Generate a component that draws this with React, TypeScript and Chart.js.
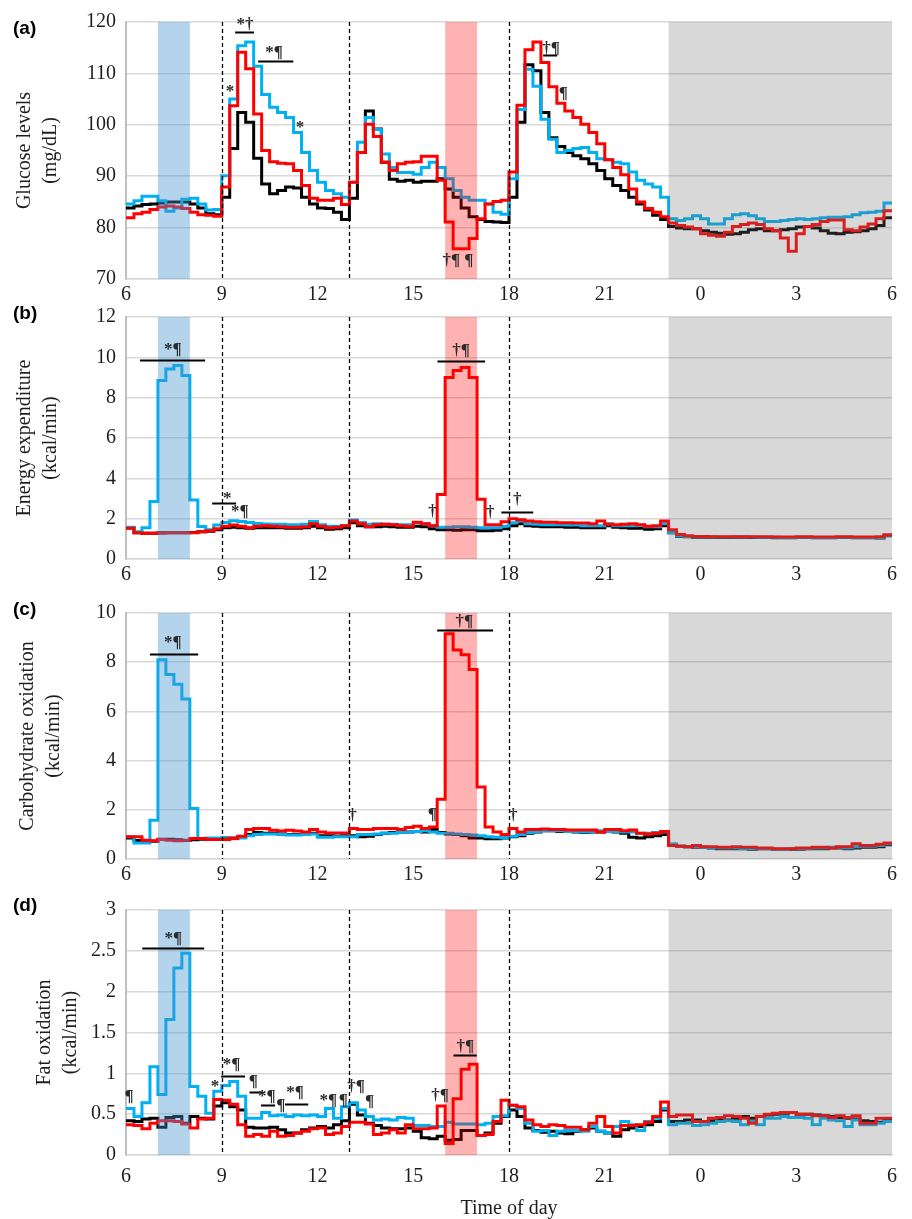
import React, { useEffect, useRef } from "react";
import { Chart, registerables } from "chart.js";

Chart.register(...registerables);

// ---------- time axis ----------
const START_HOUR = 6;
const STEP_HOURS = 0.25; // 15-minute bins
const X_TICK_HOURS = [6, 9, 12, 15, 18, 21, 24, 27, 30];
const X_TICK_LABELS = ["6", "9", "12", "15", "18", "21", "0", "3", "6"];
const MEAL_TIMES = [9, 13, 18];
const MORNING_EX = [7, 8];
const AFTERNOON_EX = [16, 17];
const SLEEP = [23, 30];

// ---------- (a) Glucose levels (mg/dL) ----------
const GLU_CONTROL = [
  83.8, 84.2, 84.5, 84.6, 84.8, 85.0, 85.0, 85.0, 84.6, 83.8, 82.7, 82.5,
  85.9, 95.4, 102.4, 100.5, 93.5, 88.5, 86.6, 87.2, 87.9, 87.7, 85.9, 84.6, 83.8, 83.7, 83.0, 81.6,
  85.7, 94.6, 102.7, 99.2, 92.7, 89.4, 89.0, 89.2, 88.8, 89.0, 89.0, 89.5, 87.5, 85.9, 83.8, 82.1, 81.6, 81.2, 81.1, 81.0,
  85.9, 100.5, 111.7, 110.5, 102.4, 97.5, 95.8, 94.6, 94.0, 93.4, 92.4, 91.1, 89.5, 88.2, 87.2, 85.9, 84.6, 83.4, 82.4, 81.6,
  80.2, 79.9, 79.8, 79.8, 79.4, 79.1, 78.9, 78.7, 78.8, 79.1, 79.6, 79.8, 79.4, 79.4, 79.6, 79.8, 80.1, 80.2, 79.9, 79.4, 78.9, 78.8, 79.1, 79.2, 79.4, 79.8, 80.4, 81.9,
];
const GLU_MORNING = [
  84.6, 85.2, 86.1, 86.1, 85.2, 83.2, 83.8, 85.5, 85.7, 84.6, 83.4, 83.5,
  90.1, 105.0, 115.4, 116.1, 111.4, 105.9, 103.4, 102.4, 101.4, 98.5, 94.6, 91.1, 88.8, 87.2, 86.6, 85.9,
  88.8, 96.6, 101.4, 99.1, 94.3, 91.7, 90.7, 90.7, 90.4, 91.7, 92.7, 91.7, 89.5, 87.2, 85.9, 85.3, 85.3, 84.6, 83.0, 82.6,
  89.5, 103.0, 110.8, 107.5, 101.1, 97.2, 94.6, 95.0, 95.4, 95.6, 94.6, 93.4, 93.2, 92.7, 92.4, 90.8, 89.2, 88.5, 87.9, 85.9,
  81.7, 81.4, 81.7, 82.3, 81.7, 80.7, 80.7, 81.7, 82.5, 82.7, 82.3, 81.7, 81.2, 81.2, 81.4, 81.6, 81.7, 81.6, 81.7, 81.9, 82.0, 82.0, 82.1, 82.5, 82.9, 83.0, 83.2, 84.8,
];
const GLU_AFTERNOON = [
  81.9, 82.7, 83.0, 83.5, 84.0, 84.2, 84.0, 83.7, 83.0, 82.5, 82.4, 82.2,
  87.9, 103.7, 114.1, 110.9, 102.1, 95.0, 92.8, 92.5, 92.4, 91.1, 88.2, 85.7, 85.3, 85.3, 85.7, 84.5,
  88.8, 94.6, 100.1, 97.7, 92.7, 91.1, 92.4, 92.7, 92.8, 93.9, 93.9, 89.2, 81.1, 75.9, 75.9, 77.9, 81.7, 84.6, 85.1, 85.3,
  90.8, 103.8, 114.6, 116.1, 112.1, 107.4, 104.2, 102.7, 101.4, 100.1, 98.5, 96.3, 93.2, 91.7, 90.3, 87.5, 85.0, 83.7, 83.0, 82.1,
  80.9, 80.4, 80.1, 79.8, 78.8, 78.5, 78.3, 79.1, 80.2, 80.6, 80.9, 80.6, 79.8, 79.4, 78.0, 75.4, 78.8, 80.2, 80.6, 81.2, 81.5, 81.5, 79.6, 79.4, 80.1, 80.7, 81.7, 83.3,
];

// ---------- (b) Energy expenditure (kcal/min) ----------
const EE_CONTROL = [
  1.55, 1.30, 1.28, 1.28, 1.30, 1.30, 1.30, 1.30, 1.32, 1.35, 1.38, 1.45,
  1.55, 1.58, 1.55, 1.52, 1.55, 1.55, 1.55, 1.55, 1.52, 1.52, 1.55, 1.62, 1.55, 1.48, 1.50, 1.55,
  1.80, 1.65, 1.60, 1.60, 1.62, 1.60, 1.58, 1.58, 1.62, 1.60, 1.50, 1.45, 1.45, 1.42, 1.45, 1.45, 1.40, 1.40, 1.42, 1.50,
  1.65, 1.75, 1.65, 1.62, 1.60, 1.60, 1.60, 1.58, 1.58, 1.55, 1.55, 1.55, 1.65, 1.58, 1.55, 1.52, 1.52, 1.48, 1.50, 1.65,
  1.30, 1.12, 1.10, 1.08, 1.08, 1.08, 1.07, 1.07, 1.08, 1.08, 1.07, 1.06, 1.06, 1.05, 1.05, 1.05, 1.06, 1.06, 1.05, 1.05, 1.05, 1.06, 1.06, 1.05, 1.05, 1.05, 1.04, 1.15,
];
const EE_MORNING = [
  1.58, 1.35, 1.55, 2.85, 8.85, 9.42, 9.59, 9.10, 2.93, 1.61, 1.45, 1.69,
  1.81, 1.90, 1.86, 1.81, 1.76, 1.74, 1.72, 1.72, 1.70, 1.70, 1.72, 1.86, 1.70, 1.62, 1.62, 1.66,
  1.94, 1.81, 1.72, 1.75, 1.72, 1.72, 1.70, 1.70, 1.80, 1.75, 1.65, 1.58, 1.58, 1.60, 1.60, 1.58, 1.55, 1.55, 1.55, 1.62,
  1.80, 1.90, 1.75, 1.72, 1.70, 1.70, 1.70, 1.68, 1.68, 1.65, 1.65, 1.65, 1.75, 1.65, 1.65, 1.65, 1.68, 1.60, 1.60, 1.75,
  1.30, 1.14, 1.12, 1.10, 1.10, 1.10, 1.09, 1.09, 1.10, 1.10, 1.09, 1.08, 1.08, 1.08, 1.07, 1.07, 1.08, 1.08, 1.07, 1.07, 1.07, 1.08, 1.08, 1.07, 1.07, 1.07, 1.06, 1.18,
];
const EE_AFTERNOON = [
  1.52, 1.30, 1.28, 1.28, 1.28, 1.30, 1.30, 1.30, 1.30, 1.35, 1.40, 1.50,
  1.62, 1.68, 1.62, 1.55, 1.62, 1.65, 1.62, 1.60, 1.58, 1.58, 1.60, 1.75, 1.62, 1.55, 1.58, 1.65,
  1.88, 1.75, 1.60, 1.70, 1.72, 1.70, 1.65, 1.62, 1.82, 1.75, 1.65, 3.20, 9.00, 9.35, 9.50, 9.00, 2.96, 1.70, 1.70, 1.85,
  2.00, 1.95, 1.88, 1.85, 1.82, 1.82, 1.80, 1.80, 1.78, 1.78, 1.75, 1.88, 1.72, 1.70, 1.72, 1.75, 1.70, 1.62, 1.65, 1.88,
  1.45, 1.22, 1.15, 1.12, 1.12, 1.10, 1.10, 1.10, 1.10, 1.10, 1.10, 1.10, 1.10, 1.09, 1.09, 1.09, 1.10, 1.10, 1.09, 1.09, 1.09, 1.10, 1.10, 1.09, 1.09, 1.09, 1.10, 1.20,
];

// ---------- (c) Carbohydrate oxidation (kcal/min) ----------
const CHO_CONTROL = [
  0.85, 0.75, 0.72, 0.72, 0.80, 0.80, 0.78, 0.75, 0.78, 0.80, 0.82, 0.82,
  0.85, 0.85, 0.88, 1.00, 1.08, 1.05, 1.05, 1.02, 1.00, 1.00, 1.02, 1.05, 0.95, 0.95, 0.92, 0.95,
  0.95, 0.90, 0.92, 1.00, 1.05, 1.08, 1.08, 1.10, 1.12, 1.10, 1.20, 1.08, 1.02, 1.00, 0.95, 0.85, 0.85, 0.82, 0.82, 0.85,
  0.90, 0.95, 1.05, 1.10, 1.15, 1.15, 1.12, 1.12, 1.10, 1.08, 1.10, 1.10, 1.12, 1.10, 1.05, 0.88, 0.85, 0.90, 0.95, 1.00,
  0.60, 0.52, 0.50, 0.48, 0.48, 0.45, 0.42, 0.42, 0.42, 0.42, 0.40, 0.42, 0.42, 0.40, 0.40, 0.40, 0.40, 0.42, 0.42, 0.42, 0.45, 0.45, 0.42, 0.45, 0.48, 0.48, 0.50, 0.58,
];
const CHO_MORNING = [
  0.90, 0.65, 0.65, 1.58, 8.10, 7.50, 7.10, 6.50, 2.05, 0.83, 0.85, 0.85,
  0.82, 0.82, 0.85, 0.95, 1.00, 1.02, 1.02, 1.00, 0.98, 0.98, 1.00, 1.02, 0.88, 0.88, 0.90, 0.90,
  0.90, 1.00, 1.00, 1.02, 1.05, 1.05, 1.08, 1.10, 1.12, 1.15, 1.10, 1.05, 1.05, 1.02, 1.00, 0.98, 0.95, 0.90, 0.88, 0.85,
  0.92, 1.00, 1.08, 1.12, 1.15, 1.15, 1.15, 1.12, 1.12, 1.10, 1.12, 1.15, 1.12, 1.12, 1.10, 1.10, 1.05, 1.05, 1.08, 1.10,
  0.60, 0.52, 0.50, 0.50, 0.48, 0.45, 0.45, 0.45, 0.45, 0.42, 0.42, 0.42, 0.42, 0.40, 0.40, 0.42, 0.42, 0.42, 0.45, 0.45, 0.48, 0.48, 0.45, 0.50, 0.52, 0.52, 0.55, 0.62,
];
const CHO_AFTERNOON = [
  0.90, 0.90, 0.76, 0.74, 0.79, 0.76, 0.74, 0.76, 0.83, 0.83, 0.79, 0.79,
  0.79, 0.83, 0.92, 1.20, 1.24, 1.24, 1.17, 1.14, 1.17, 1.14, 1.10, 1.20, 1.10, 1.06, 1.06, 1.06,
  1.24, 1.20, 1.20, 1.24, 1.24, 1.24, 1.20, 1.28, 1.33, 1.24, 1.30, 2.43, 9.16, 8.50, 8.30, 7.70, 2.93, 1.30, 1.10, 1.00,
  1.24, 1.10, 1.20, 1.20, 1.22, 1.20, 1.20, 1.18, 1.18, 1.18, 1.18, 1.10, 1.20, 1.20, 1.15, 1.18, 1.05, 1.02, 1.05, 1.12,
  0.55, 0.52, 0.50, 0.55, 0.50, 0.50, 0.48, 0.48, 0.50, 0.48, 0.48, 0.45, 0.45, 0.42, 0.42, 0.42, 0.45, 0.45, 0.48, 0.48, 0.45, 0.50, 0.50, 0.62, 0.55, 0.55, 0.60, 0.65,
];

// ---------- (d) Fat oxidation (kcal/min) ----------
const FAT_CONTROL = [
  0.42, 0.41, 0.44, 0.45, 0.34, 0.46, 0.47, 0.39, 0.47, 0.45, 0.44, 0.60,
  0.64, 0.59, 0.55, 0.34, 0.33, 0.33, 0.34, 0.31, 0.27, 0.27, 0.31, 0.33, 0.35, 0.33, 0.37, 0.42,
  0.62, 0.49, 0.39, 0.36, 0.33, 0.32, 0.32, 0.33, 0.29, 0.21, 0.20, 0.23, 0.18, 0.19, 0.30, 0.30, 0.24, 0.27, 0.39, 0.47,
  0.55, 0.47, 0.33, 0.30, 0.28, 0.29, 0.27, 0.26, 0.29, 0.31, 0.33, 0.29, 0.27, 0.23, 0.31, 0.33, 0.35, 0.37, 0.41, 0.55,
  0.41, 0.41, 0.43, 0.43, 0.41, 0.42, 0.43, 0.43, 0.45, 0.47, 0.45, 0.47, 0.49, 0.50, 0.51, 0.52, 0.50, 0.50, 0.49, 0.48, 0.47, 0.46, 0.45, 0.44, 0.42, 0.41, 0.40, 0.43,
];
const FAT_MORNING = [
  0.57, 0.47, 0.64, 1.08, 0.74, 1.66, 2.29, 2.47, 0.84, 0.72, 0.51, 0.78,
  0.85, 0.90, 0.72, 0.45, 0.45, 0.52, 0.48, 0.49, 0.47, 0.49, 0.48, 0.49, 0.47, 0.57, 0.45, 0.59,
  0.64, 0.55, 0.47, 0.43, 0.44, 0.43, 0.46, 0.45, 0.36, 0.36, 0.35, 0.35, 0.40, 0.38, 0.38, 0.38, 0.37, 0.39, 0.47, 0.48,
  0.61, 0.57, 0.39, 0.29, 0.30, 0.24, 0.29, 0.30, 0.30, 0.29, 0.35, 0.29, 0.27, 0.35, 0.41, 0.37, 0.30, 0.41, 0.45, 0.57,
  0.37, 0.39, 0.39, 0.36, 0.37, 0.39, 0.41, 0.42, 0.41, 0.37, 0.41, 0.37, 0.45, 0.45, 0.47, 0.46, 0.46, 0.45, 0.37, 0.45, 0.43, 0.42, 0.35, 0.43, 0.37, 0.37, 0.39, 0.41,
];
const FAT_AFTERNOON = [
  0.37, 0.36, 0.32, 0.39, 0.42, 0.42, 0.41, 0.38, 0.33, 0.44, 0.45, 0.68,
  0.67, 0.62, 0.37, 0.23, 0.25, 0.23, 0.29, 0.23, 0.24, 0.27, 0.29, 0.32, 0.33, 0.25, 0.27, 0.35,
  0.40, 0.40, 0.38, 0.25, 0.27, 0.31, 0.27, 0.37, 0.32, 0.32, 0.33, 0.60, 0.14, 0.69, 1.05, 1.11, 0.24, 0.25, 0.41, 0.67,
  0.61, 0.59, 0.43, 0.37, 0.35, 0.37, 0.36, 0.34, 0.34, 0.31, 0.39, 0.47, 0.35, 0.27, 0.36, 0.36, 0.37, 0.40, 0.47, 0.65,
  0.47, 0.49, 0.49, 0.41, 0.41, 0.45, 0.46, 0.48, 0.47, 0.45, 0.39, 0.47, 0.50, 0.51, 0.52, 0.52, 0.50, 0.50, 0.48, 0.48, 0.46, 0.48, 0.46, 0.48, 0.39, 0.39, 0.45, 0.45,
];

// ---------- significance annotations (text at data coords; bars x1..x2 at y) ----------
type Txt = { t: string; x: number; y: number };
type Bar = { x1: number; x2: number; y: number };
const ANN_A_TEXT: Txt[] = [
  { t: "*†", x: 9.73, y: 119.4 }, { t: "*¶", x: 10.64, y: 114.1 }, { t: "*", x: 9.26, y: 106.4 },
  { t: "*", x: 11.45, y: 99.4 }, { t: "†¶ ¶", x: 16.4, y: 73.6 }, { t: "†¶", x: 19.32, y: 114.9 },
  { t: "¶", x: 19.7, y: 106 },
];
const ANN_A_BARS: Bar[] = [{ x1: 9.42, x2: 10.01, y: 118.0 }, { x1: 10.14, x2: 11.24, y: 112.4 }, { x1: 19.07, x2: 19.51, y: 113.5 }];
const ANN_B_TEXT: Txt[] = [
  { t: "*¶", x: 7.47, y: 10.4 }, { t: "*", x: 9.17, y: 3.0 }, { t: "*¶", x: 9.57, y: 2.35 },
  { t: "†", x: 15.6, y: 2.35 }, { t: "†¶", x: 16.5, y: 10.35 }, { t: "†", x: 17.41, y: 2.3 }, { t: "†", x: 18.26, y: 2.95 },
];
const ANN_B_BARS: Bar[] = [{ x1: 6.44, x2: 8.48, y: 9.88 }, { x1: 8.7, x2: 9.45, y: 2.77 }, { x1: 15.76, x2: 17.25, y: 9.83 }, { x1: 17.76, x2: 18.76, y: 2.32 }];
const ANN_C_TEXT: Txt[] = [
  { t: "*¶", x: 7.47, y: 8.8 }, { t: "†", x: 13.1, y: 1.75 }, { t: "¶", x: 15.6, y: 1.8 },
  { t: "†¶", x: 16.6, y: 9.65 }, { t: "†", x: 18.13, y: 1.75 },
];
const ANN_C_BARS: Bar[] = [{ x1: 6.75, x2: 8.26, y: 8.33 }, { x1: 15.75, x2: 17.5, y: 9.31 }];
const ANN_D_TEXT: Txt[] = [
  { t: "¶", x: 6.1, y: 0.71 }, { t: "*¶", x: 7.48, y: 2.65 }, { t: "*", x: 8.79, y: 0.84 },
  { t: "*¶", x: 9.31, y: 1.11 }, { t: "¶", x: 9.99, y: 0.9 }, { t: "*¶", x: 10.41, y: 0.72 },
  { t: "¶", x: 10.85, y: 0.61 }, { t: "*¶", x: 11.3, y: 0.77 }, { t: "*¶", x: 12.34, y: 0.67 },
  { t: "¶", x: 12.81, y: 0.67 }, { t: "†¶", x: 13.21, y: 0.84 }, { t: "¶", x: 13.63, y: 0.65 },
  { t: "†¶", x: 15.84, y: 0.73 }, { t: "†¶", x: 16.63, y: 1.33 },
];
const ANN_D_BARS: Bar[] = [
  { x1: 6.51, x2: 8.45, y: 2.54 }, { x1: 8.98, x2: 9.73, y: 0.97 }, { x1: 9.87, x2: 10.3, y: 0.77 },
  { x1: 10.23, x2: 10.67, y: 0.61 }, { x1: 10.98, x2: 11.71, y: 0.63 }, { x1: 16.26, x2: 16.99, y: 1.23 },
];

// ---------- styling ----------
const SERIF = '"Liberation Serif", "Times New Roman", serif';
const COL_CONTROL = "#000000";
const COL_MORNING = "#00B0F0";
const COL_AFTERNOON = "#FF0000";

type PanelCfg = {
  letter: string;
  top: number;
  h: number;
  plotTop: number;
  plotBottom: number;
  yMin: number;
  yMax: number;
  yStep: number;
  title: string[];
  titlePad: number;
  xPad: number;
  letterY: number;
  control: number[];
  morning: number[];
  afternoon: number[];
  texts: Txt[];
  bars: Bar[];
  xTitle?: string;
};

const PANELS: PanelCfg[] = [
  { letter: "(a)", top: 0, h: 310, plotTop: 21, plotBottom: 279, yMin: 70, yMax: 120, yStep: 10,
    title: ["Glucose levels", "(mg/dL)"], titlePad: 12, xPad: 4, letterY: 29,
    control: GLU_CONTROL, morning: GLU_MORNING, afternoon: GLU_AFTERNOON, texts: ANN_A_TEXT, bars: ANN_A_BARS },
  { letter: "(b)", top: 295, h: 290, plotTop: 21, plotBottom: 264, yMin: 0, yMax: 12, yStep: 2,
    title: ["Energy expenditure", "(kcal/min)"], titlePad: 12, xPad: 4, letterY: 19,
    control: EE_CONTROL, morning: EE_MORNING, afternoon: EE_AFTERNOON, texts: ANN_B_TEXT, bars: ANN_B_BARS },
  { letter: "(c)", top: 585, h: 300, plotTop: 28, plotBottom: 274, yMin: 0, yMax: 10, yStep: 2,
    title: ["Carbohydrate oxidation", "(kcal/min)"], titlePad: 15, xPad: 4, letterY: 25,
    control: CHO_CONTROL, morning: CHO_MORNING, afternoon: CHO_AFTERNOON, texts: ANN_C_TEXT, bars: ANN_C_BARS },
  { letter: "(d)", top: 885, h: 334, plotTop: 25, plotBottom: 270, yMin: 0, yMax: 3, yStep: 0.5,
    title: ["Fat oxidation", "(kcal/min)"], titlePad: 32, xPad: 10, letterY: 21,
    control: FAT_CONTROL, morning: FAT_MORNING, afternoon: FAT_AFTERNOON, texts: ANN_D_TEXT, bars: ANN_D_BARS,
    xTitle: "Time of day" },
];

function toSteps(vals: number[]) {
  const pts = vals.map((v, i) => ({ x: START_HOUR + i * STEP_HOURS, y: v }));
  pts.push({ x: START_HOUR + vals.length * STEP_HOURS, y: vals[vals.length - 1] });
  return pts;
}

function makeOverlay(cfg: PanelCfg) {
  return {
    id: "overlay" + cfg.letter,
    afterDatasetsDraw(chart: any) {
      const { ctx, chartArea: a, scales } = chart;
      const x = scales.x;
      const y = scales.y;
      ctx.save();
      const band = (r: number[], color: string) => {
        const x1 = x.getPixelForValue(r[0]);
        const x2 = x.getPixelForValue(r[1]);
        ctx.fillStyle = color;
        ctx.fillRect(x1, a.top, x2 - x1, a.bottom - a.top);
      };
      band(MORNING_EX, "rgba(68,148,207,0.4)");
      band(AFTERNOON_EX, "rgba(255,0,0,0.3)");
      band(SLEEP, "rgba(110,110,110,0.27)");

      ctx.strokeStyle = "#000";
      ctx.lineWidth = 1.3;
      ctx.setLineDash([4, 3]);
      for (const t of MEAL_TIMES) {
        const px = Math.round(x.getPixelForValue(t)) + 0.5;
        ctx.beginPath();
        ctx.moveTo(px, a.top);
        ctx.lineTo(px, a.bottom);
        ctx.stroke();
      }
      ctx.setLineDash([]);

      ctx.lineWidth = 2;
      ctx.strokeStyle = "#000";
      for (const b of cfg.bars) {
        const py = Math.round(y.getPixelForValue(b.y)) + 0.5;
        ctx.beginPath();
        ctx.moveTo(x.getPixelForValue(b.x1), py);
        ctx.lineTo(x.getPixelForValue(b.x2), py);
        ctx.stroke();
      }

      ctx.fillStyle = "#2a2a2a";
      ctx.font = `bold 17px ${SERIF}`;
      ctx.textAlign = "center";
      ctx.textBaseline = "middle";
      for (const t of cfg.texts) {
        ctx.fillText(t.t, x.getPixelForValue(t.x), y.getPixelForValue(t.y));
      }

      ctx.fillStyle = "#000";
      ctx.font = 'bold 19px "Liberation Sans", Arial, sans-serif';
      ctx.textAlign = "left";
      ctx.textBaseline = "middle";
      ctx.fillText(cfg.letter, 13, cfg.letterY);
      ctx.restore();
    },
  };
}

function Panel({ cfg }: { cfg: PanelCfg }) {
  const ref = useRef<HTMLCanvasElement>(null);
  useEffect(() => {
    const ds = (label: string, vals: number[], color: string) => ({
      label,
      data: toSteps(vals),
      borderColor: color,
      backgroundColor: color,
      borderWidth: 3,
      pointRadius: 0,
      stepped: true,
      fill: false,
      borderJoinStyle: "miter" as const,
    });
    const chart = new Chart(ref.current as HTMLCanvasElement, {
      type: "line",
      data: {
        datasets: [
          ds("Afternoon exercise", cfg.afternoon, COL_AFTERNOON),
          ds("Morning exercise", cfg.morning, COL_MORNING),
          ds("Control", cfg.control, COL_CONTROL),
        ],
      },
      options: {
        animation: false,
        responsive: false,
        devicePixelRatio: 1,
        layout: { padding: { top: cfg.plotTop, right: 20, left: 0, bottom: 0 } },
        plugins: { legend: { display: false }, tooltip: { enabled: false } },
        scales: {
          x: {
            type: "linear",
            min: X_TICK_HOURS[0],
            max: X_TICK_HOURS[X_TICK_HOURS.length - 1],
            afterBuildTicks: (s: any) => {
              s.ticks = X_TICK_HOURS.map((v) => ({ value: v }));
            },
            ticks: {
              callback: (_v: any, i: number) => X_TICK_LABELS[i],
              font: { family: SERIF, size: 20 },
              color: "#1e1e1e",
              padding: cfg.xPad,
              maxRotation: 0,
              autoSkip: false,
            },
            grid: { display: false, drawTicks: false },
            border: { display: true, color: "#D9D9D9", width: 1.5 },
            afterFit: (s: any) => {
              s.height = cfg.h - cfg.plotBottom;
            },
            title: cfg.xTitle
              ? { display: true, text: cfg.xTitle, font: { family: SERIF, size: 20, lineHeight: 1 }, color: "#1e1e1e", padding: { top: 0, bottom: 0 } }
              : { display: false },
          },
          y: {
            min: cfg.yMin,
            max: cfg.yMax,
            ticks: {
              stepSize: cfg.yStep,
              callback: (v: any) => String(Number(v)),
              font: { family: SERIF, size: 20 },
              color: "#1e1e1e",
              padding: 10,
            },
            grid: { color: "#D9D9D9", lineWidth: 1.5, drawTicks: false },
            border: { display: true, color: "#BFBFBF", width: 2 },
            afterFit: (s: any) => {
              s.width = 126;
            },
            title: {
              display: true,
              text: cfg.title,
              font: { family: SERIF, size: 20, lineHeight: 1.3 },
              color: "#1e1e1e",
              padding: { top: cfg.titlePad, bottom: 0 },
            },
          },
        },
      },
      plugins: [makeOverlay(cfg)],
    } as any);
    return () => chart.destroy();
  }, [cfg]);
  return (
    <canvas
      ref={ref}
      width={912}
      height={cfg.h}
      style={{ position: "absolute", left: 0, top: cfg.top, width: 912, height: cfg.h }}
    />
  );
}

export default function App() {
  return (
    <div style={{ position: "absolute", left: 0, top: 0, width: 912, height: 1219, background: "#fff", overflow: "hidden" }}>
      {PANELS.map((p) => (
        <Panel key={p.letter} cfg={p} />
      ))}
    </div>
  );
}
